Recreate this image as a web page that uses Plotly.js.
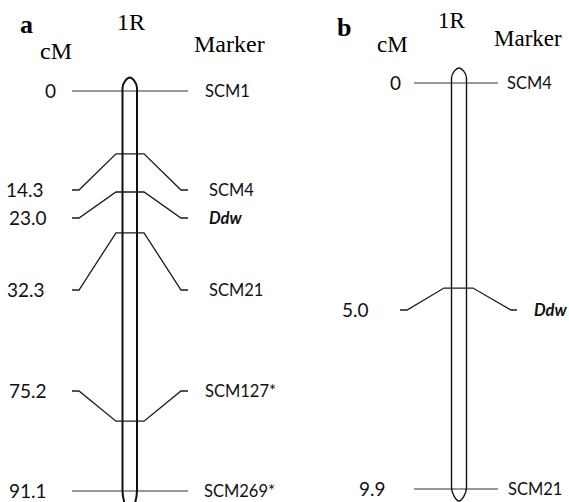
<!DOCTYPE html>
<html>
<head>
<meta charset="utf-8">
<script src="https://cdn.plot.ly/plotly-3.0.1.min.js"></script>
<style>html,body{margin:0;padding:0;background:#fff;}#chart{width:569px;height:502px;}</style>
</head>
<body>
<div id="chart"></div>
<script>
// ---------- DATA ----------
const markersA = ['SCM1', 'SCM4', 'Ddw', 'SCM21', 'SCM127*', 'SCM269*'];
const cmA = [0, 14.3, 23.0, 32.3, 75.2, 91.1];
const cmLabelsA = ['0', '14.3', '23.0', '32.3', '75.2', '91.1'];

const markersB = ['SCM4', 'Ddw', 'SCM21'];
const cmB = [0, 5.0, 9.9];
const cmLabelsB = ['0', '5.0', '9.9'];

const geneNames = ['Ddw'];

// ---------- LAYOUT GEOMETRY (pixels) ----------
const W = 569, H = 502;
const geoA = {
  yref: 'y', zeroPx: 91, lastPx: 491,
  chrL: 122.5, chrR: 137, chrW: 2,
  capTopPx: 77.5, capSidePx: 88, botSidePx: 490, botTipPx: 512,
  straight: [72, 188], bent: [72, 79, 116, 144, 181, 188],
  labelPx: [91, 190, 218, 290, 391, 491],
  cmTextRight: [57, 45, 48, 46, 48, 48],
  markerTextLeft: [204, 208, 208, 208, 204, 203]
};
const geoB = {
  yref: 'y2', zeroPx: 83, lastPx: 489,
  chrL: 451.5, chrR: 466.5, chrW: 1.4,
  capTopPx: 68, capSidePx: 78, botSidePx: 487, botTipPx: 501,
  straight: [414, 498], bent: [400, 407, 444, 473, 511, 517],
  labelPx: [83, 310, 489],
  cmTextRight: [402, 370, 387],
  markerTextLeft: [506, 533, 507]
};

function scaleOf(cm, g) {
  const k = (g.lastPx - g.zeroPx) / (cm[cm.length - 1] - cm[0]);
  const top = cm[0] - g.zeroPx / k;
  const bottom = top + H / k;
  return { k, top, bottom, toCm: p => cm[0] + (p - g.zeroPx) / k };
}

const traces = [];
const annotations = [];
const shapes = [];
const sans = 'Lato';

function buildPanel(markers, cm, cmLabels, g) {
  const s = scaleOf(cm, g);
  const ya = g.yref;
  markers.forEach((m, i) => {
    const lab = s.toCm(g.labelPx[i]);
    const isBent = Math.abs(lab - cm[i]) > 1e-6;
    let xs, ys;
    if (isBent) {
      xs = g.bent;
      ys = [lab, lab, cm[i], cm[i], lab, lab];
    } else {
      xs = g.straight;
      ys = [cm[i], cm[i]];
    }
    traces.push({
      type: 'scatter', mode: 'lines', x: xs, y: ys, xaxis: 'x', yaxis: ya,
      line: { color: isBent ? '#1a1a1a' : '#333', width: isBent ? 1.3 : 1.2 }, hoverinfo: 'skip'
    });
    annotations.push({
      xref: 'x', yref: ya, x: g.cmTextRight[i], y: lab, text: cmLabels[i],
      xanchor: 'right', yanchor: 'middle', showarrow: false, borderpad: 0, yshift: 1,
      font: { family: sans, size: 19, color: '#111' }
    });
    const gene = geneNames.includes(m);
    annotations.push({
      xref: 'x', yref: ya, x: g.markerTextLeft[i], y: lab,
      text: gene ? '<b><i>' + m + '</i></b>' : m,
      xanchor: 'left', yanchor: 'middle', showarrow: false, borderpad: 0,
      font: { family: sans, size: 16.5, color: '#111' }
    });
  });
  // chromosome outline
  const L = g.chrL, R = g.chrR, C = (L + R) / 2;
  const y = p => s.toCm(p);
  const capMid = (g.capSidePx + g.capTopPx) / 2;
  const botMid = (g.botSidePx + g.botTipPx) / 2;
  const path =
    `M ${L},${y(g.botSidePx)} L ${L},${y(g.capSidePx)} ` +
    `C ${L},${y(capMid)} ${C - 2.5},${y(g.capTopPx)} ${C},${y(g.capTopPx)} ` +
    `C ${C + 2.5},${y(g.capTopPx)} ${R},${y(capMid)} ${R},${y(g.capSidePx)} ` +
    `L ${R},${y(g.botSidePx)} ` +
    `C ${R},${y(botMid)} ${C + 2.5},${y(g.botTipPx)} ${C},${y(g.botTipPx)} ` +
    `C ${C - 2.5},${y(g.botTipPx)} ${L},${y(botMid)} ${L},${y(g.botSidePx)} Z`;
  shapes.push({
    type: 'path', xref: 'x', yref: ya, path: path,
    line: { color: '#111', width: g.chrW }, fillcolor: 'rgba(0,0,0,0)', layer: 'above'
  });
  return s;
}

const sA = buildPanel(markersA, cmA, cmLabelsA, geoA);
const sB = buildPanel(markersB, cmB, cmLabelsB, geoB);

// headers
const serif = 'Liberation Serif';
function hdr(text, xc, yc, size, bold) {
  annotations.push({
    xref: 'x', yref: 'paper', x: xc, y: 1 - yc / H, text: bold ? '<b>' + text + '</b>' : text,
    xanchor: 'center', yanchor: 'middle', showarrow: false,
    font: { family: serif, size: size, color: '#000' }
  });
}
hdr('a', 26, 25, 26, true);
hdr('1R', 131, 22, 24, false);
hdr('cM', 56, 51, 24, false);
hdr('Marker', 229, 44, 24, false);
hdr('b', 344, 28, 26, true);
hdr('cM', 392, 44, 23, false);
hdr('1R', 452, 21, 23, false);
hdr('Marker', 528, 38, 23, false);

const layout = {
  width: W, height: H,
  margin: { l: 0, r: 0, t: 0, b: 0, pad: 0 },
  paper_bgcolor: '#fff', plot_bgcolor: '#fff',
  showlegend: false,
  xaxis: { range: [0, W], domain: [0, 1], visible: false, fixedrange: true },
  yaxis: { range: [sA.bottom, sA.top], domain: [0, 1], visible: false, fixedrange: true },
  yaxis2: { range: [sB.bottom, sB.top], domain: [0, 1], overlaying: 'y', visible: false, fixedrange: true },
  annotations: annotations,
  shapes: shapes
};

Plotly.newPlot('chart', traces, layout, { staticPlot: true, displayModeBar: false });
</script>
</body>
</html>
